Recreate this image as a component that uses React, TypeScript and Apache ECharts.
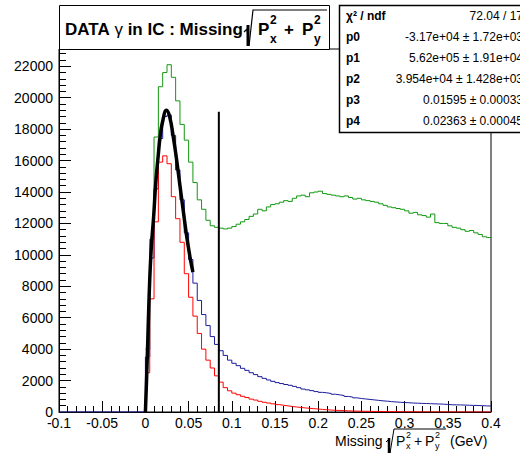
import React, { useEffect, useRef } from "react";
import * as echarts from "echarts";

// Histogram binning (GeV)
const binStart = 0;
const binWidth = 0.005;

// Green histogram counts (bins of 0.005 from 0 to 0.4)
const greenCounts = [
  4000, 11000, 17500, 20700, 21600, 22100, 21300, 19800,
  18300, 17300, 15900, 14600, 13500, 12900, 12200, 11850,
  11750, 11700, 11650, 11700, 11800, 11950, 12100, 12250,
  12450, 12600, 12900, 12800, 13050, 13200, 13250, 13350,
  13450, 13400, 13600, 13750, 13800, 13700, 13950, 14000,
  14050, 13900, 13850, 13800, 13750, 13700, 13750, 13650,
  13550, 13600, 13500, 13450, 13400, 13350, 13250, 13150,
  13050, 13000, 12950, 12900, 12800, 12650, 12700, 12550,
  12500, 12400, 12600, 12050, 12000, 12000, 11850, 11750,
  11700, 11600, 11500, 11550, 11400, 11300, 11150, 11100,
];

// Blue histogram counts
const blueCounts = [
  3500, 9800, 14200, 17400, 18800, 18900, 17600, 15400,
  13500, 11400, 9700, 8200, 7100, 6200, 5500, 4800,
  4300, 3900, 3600, 3300, 3100, 2950, 2780, 2650,
  2500, 2380, 2250, 2140, 2040, 1950, 1870, 1810,
  1750, 1700, 1630, 1550, 1460, 1410, 1360, 1300,
  1250, 1220, 1180, 1130, 1090, 1050, 990, 950,
  900, 860, 830, 800, 770, 740, 710, 690,
  660, 640, 620, 600, 590, 570, 560, 550,
  540, 530, 520, 510, 500, 480, 460, 455,
  450, 440, 430, 420, 415, 400, 390, 380,
];

// Red histogram counts
const redCounts = [
  2500, 7200, 12100, 15900, 16300, 15800, 13700, 12300,
  10800, 8800, 7300, 6100, 5000, 4000, 3300, 2800,
  2300, 1900, 1550, 1350, 1200, 1100, 1000, 920,
  820, 760, 680, 620, 570, 520, 470, 430,
  390, 350, 320, 290, 260, 235, 210, 190,
  165, 145, 125, 110, 95, 85, 75, 65,
  55, 50, 45, 40, 36, 32, 28, 25,
  22, 20, 18, 15, 10, 8, 7, 6,
  5, 5, 4, 4, 3, 3, 3, 2,
  2, 2, 2, 1, 1, 1, 1, 1,
];

// Black fit curve (read points)
const fitX = [0, 0.0015, 0.003, 0.005, 0.007, 0.0095, 0.012, 0.0148, 0.017, 0.02, 0.0245, 0.028, 0.032, 0.036, 0.04, 0.0437, 0.0476, 0.0515, 0.055];
const fitY = [0, 2300, 5000, 8400, 10600, 12400, 14600, 16300, 17500, 18500, 19200, 18800, 17600, 16100, 14400, 12850, 11250, 9900, 8900];

// Vertical cut line
const cutX = 0.085;
const cutTop = 19100;

// Axis settings
const xMin = -0.1;
const xMax = 0.4;
const xStep = 0.05;
const yMin = 0;
const yMax = 23100;
const yStep = 2000;

// Stats box
const statLabels = ["χ² / ndf", "p0", "p1", "p2", "p3", "p4"];
const statValues = [
  "72.04 / 17",
  "-3.17e+04 ± 1.72e+03",
  "5.62e+05 ± 1.91e+04",
  "3.954e+04 ± 1.428e+03",
  "0.01595 ± 0.00033",
  "0.02363 ± 0.00045",
];

function histPoints(counts: number[], leadZero: boolean): number[][] {
  const pts: number[][] = [];
  if (leadZero) pts.push([xMin, 0]);
  counts.forEach((c, i) => pts.push([binStart + i * binWidth, c]));
  pts.push([binStart + counts.length * binWidth, counts[counts.length - 1]]);
  return pts;
}

const FONT = "'Liberation Sans', Arial, Helvetica, sans-serif";

export default function App() {
  const ref = useRef<HTMLDivElement>(null);
  useEffect(() => {
    if (!ref.current) return;
    const chart = echarts.init(ref.current, undefined, { renderer: "svg" });
    const histSeries = (name: string, counts: number[], color: string, lead: boolean) => ({
      name,
      type: "line",
      step: "end",
      symbol: "none",
      data: histPoints(counts, lead),
      lineStyle: { color, width: 1 },
      itemStyle: { color },
    });
    const txt = (x: number, y: number, text: string, size: number, bold: boolean, align = "left") => ({
      type: "text",
      x,
      y,
      z: 101,
      style: {
        text,
        fontSize: size,
        fontWeight: bold ? "bold" : "normal",
        fontFamily: FONT,
        fill: "#000",
        align,
        verticalAlign: "middle",
      },
    });
    const graphics: any[] = [
      // title box
      { type: "rect", z: 100, shape: { x: 59.5, y: 5.5, width: 270, height: 44 }, style: { fill: "#fff", stroke: "#000", lineWidth: 1 } },
      {
        type: "text",
        x: 65,
        y: 29,
        z: 101,
        style: {
          text: "{b|DATA }{g|γ}{b| in IC : Missing}",
          rich: {
            b: { fontSize: 17, fontWeight: "bold", fontFamily: FONT, fill: "#000" },
            g: { fontSize: 17, fontWeight: "normal", fontFamily: FONT, fill: "#000" },
          },
          verticalAlign: "middle",
          fill: "#000",
        },
      },
      { type: "line", z: 101, shape: { x1: 248, y1: 25, x2: 248, y2: 46 }, style: { stroke: "#000", lineWidth: 3 } },
      { type: "polyline", z: 101, shape: { points: [[244, 32], [247, 29], [249, 46], [253, 10], [327, 10]] }, style: { stroke: "#000", lineWidth: 1.2, fill: null } },
      txt(258, 29, "P", 17, true),
      txt(270, 39, "x", 12, true),
      txt(270, 20, "2", 12, true),
      txt(284, 29, "+", 17, true),
      txt(302, 29, "P", 17, true),
      txt(314, 39, "y", 12, true),
      txt(314, 20, "2", 12, true),
      // stats box
      { type: "rect", z: 100, shape: { x: 339.5, y: 5.5, width: 190, height: 127 }, style: { fill: "#fff", stroke: "#000", lineWidth: 1.5 } },
      // axis title
      txt(335, 441, "Missing", 14, false),
      { type: "line", z: 101, shape: { x1: 389, y1: 438, x2: 389, y2: 453 }, style: { stroke: "#000", lineWidth: 2.5 } },
      { type: "polyline", z: 101, shape: { points: [[386, 442], [388, 440], [390, 453], [394, 429], [446, 429]] }, style: { stroke: "#000", lineWidth: 1, fill: null } },
      txt(396, 441, "P", 14, false),
      txt(406, 446, "x", 9, false),
      txt(406, 435, "2", 9, false),
      txt(414, 441, "+", 14, false),
      txt(425, 441, "P", 14, false),
      txt(435, 446, "y", 9, false),
      txt(435, 435, "2", 9, false),
      txt(450, 441, "(GeV)", 14, false),
    ];
    statLabels.forEach((l, i) => {
      graphics.push(txt(346, 16 + i * 21, l, 12, true));
      graphics.push(txt(523, 16 + i * 21, statValues[i], 12, false, "right"));
    });

    chart.setOption({
      animation: false,
      backgroundColor: "#fff",
      textStyle: { fontFamily: FONT },
      grid: { left: 59, top: 49, right: 29, bottom: 42, show: true, borderColor: "#000", borderWidth: 1 },
      xAxis: {
        type: "value",
        min: xMin,
        max: xMax,
        interval: xStep,
        axisLine: { show: true, onZero: false, lineStyle: { color: "#000", width: 1 } },
        axisTick: { show: true, inside: true, length: 11, lineStyle: { color: "#000", width: 1 } },
        minorTick: { show: true, splitNumber: 5, length: 6, lineStyle: { color: "#000", width: 1 } },
        splitLine: { show: false },
        minorSplitLine: { show: false },
        axisLabel: {
          color: "#000",
          fontSize: 14,
          fontFamily: FONT,
          margin: 4,
          formatter: (v: number) => String(+v.toFixed(2)),
        },
      },
      yAxis: {
        type: "value",
        min: yMin,
        max: yMax,
        interval: yStep,
        axisLine: { show: true, onZero: false, lineStyle: { color: "#000", width: 1 } },
        axisTick: { show: true, inside: true, length: 12, lineStyle: { color: "#000", width: 1 } },
        minorTick: { show: true, splitNumber: 5, length: 7, lineStyle: { color: "#000", width: 1 } },
        splitLine: { show: false },
        minorSplitLine: { show: false },
        axisLabel: {
          color: "#000",
          fontSize: 14,
          fontFamily: FONT,
          margin: 6,
          showMaxLabel: false,
          formatter: (v: number) => (v % yStep === 0 ? String(v) : ""),
        },
      },
      series: [
        histSeries("green", greenCounts, "#119911", false),
        histSeries("blue", blueCounts, "#1c1c9c", true),
        histSeries("red", redCounts, "#ff0000", false),
        {
          name: "fit",
          type: "line",
          smooth: true,
          symbol: "none",
          data: fitX.map((x, i) => [x, fitY[i]]),
          lineStyle: { color: "#000", width: 3.5 },
        },
        {
          name: "cut",
          type: "line",
          symbol: "none",
          data: [
            [cutX, 0],
            [cutX, cutTop],
          ],
          lineStyle: { color: "#000", width: 2 },
        },
      ],
      graphic: graphics,
    });
    return () => chart.dispose();
  }, []);
  return <div ref={ref} style={{ position: "absolute", left: 0, top: 0, width: 520, height: 454 }} />;
}
